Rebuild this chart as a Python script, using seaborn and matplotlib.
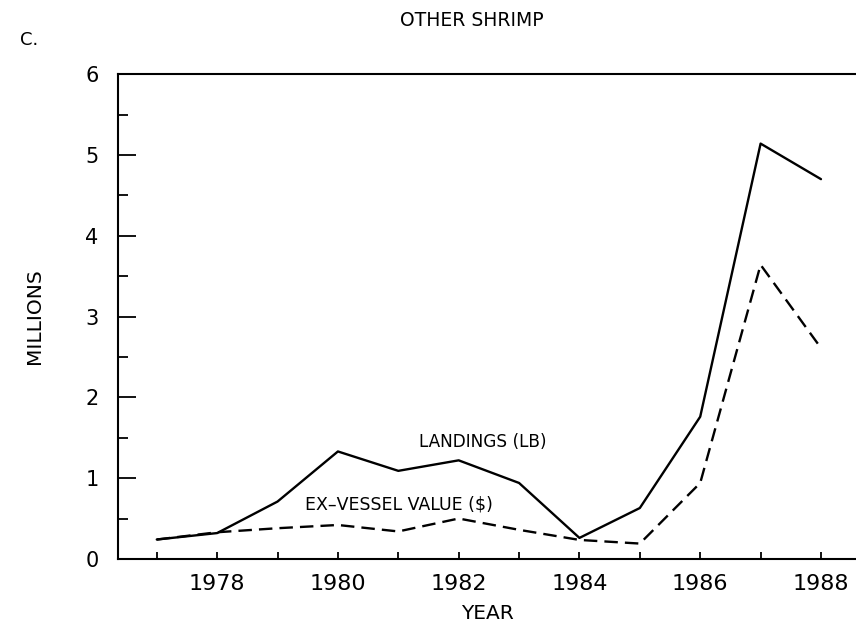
import matplotlib
matplotlib.use("Agg")
import matplotlib.pyplot as plt
import numpy as np
import pandas as pd
import seaborn as sns

sns.set_style("ticks")
plt.rcParams['font.family'] = ['DejaVu Sans']
plt.rcParams.update({"text.color": "black", "axes.labelcolor": "black",
                     "xtick.color": "black", "ytick.color": "black",
                     "axes.edgecolor": "black"})

years = list(range(1977, 1989))
landings = [0.24, 0.32, 0.71, 1.33, 1.09, 1.22, 0.94, 0.26, 0.63, 1.76, 5.14, 4.70]
value = [0.24, 0.33, 0.38, 0.42, 0.34, 0.50, 0.36, 0.235, 0.19, 0.94, 3.64, 2.61]

df = pd.DataFrame({"year": years, "landings": landings, "value": value})

fig = plt.figure(figsize=(8.56, 6.28), dpi=100)
ax = fig.add_axes([0.138, 0.110, 0.862, 0.772])

sns.lineplot(data=df, x="year", y="landings", color="black", linewidth=1.7, ax=ax)
sns.lineplot(data=df, x="year", y="value", color="black", linewidth=1.7, ax=ax)
ax.lines[-1].set_dashes([5.7, 3.0])

ax.set_xlim(1976.36, 1988.58)
ax.set_ylim(0, 6)

ax.set_xticks(range(1978, 1989, 2))
ax.set_xticks(range(1977, 1989, 2), minor=True)
ax.set_yticks(range(0, 7))
ax.set_yticks(np.arange(0.5, 6, 1.0), minor=True)
ax.tick_params(axis="x", which="both", direction="in", length=5, width=1.3,
               labelsize=16, pad=11)
ax.tick_params(axis="y", which="major", direction="in", length=13, width=1.3,
               labelsize=15, pad=14)
ax.tick_params(axis="y", which="minor", direction="in", length=7, width=1.3)

ax.spines["right"].set_visible(False)
for s in ["left", "bottom", "top"]:
    ax.spines[s].set_linewidth(1.5)

ax.set_xlabel("YEAR", fontsize=14.5, labelpad=7)
ax.set_ylabel("MILLIONS", fontsize=14.5, labelpad=30)

ax.text(1981.35, 1.45, "LANDINGS (LB)", fontsize=12.2, va="center")
ax.text(1979.45, 0.67, "EX\u2013VESSEL VALUE ($)", fontsize=12.5, va="center")

fig.text(472 / 856, 1 - 20 / 628, "OTHER SHRIMP", fontsize=13.5, ha="center", va="center")
fig.text(20 / 856, 1 - 40 / 628, "C.", fontsize=13, ha="left", va="center")

fig.savefig("out.png", dpi=100)
